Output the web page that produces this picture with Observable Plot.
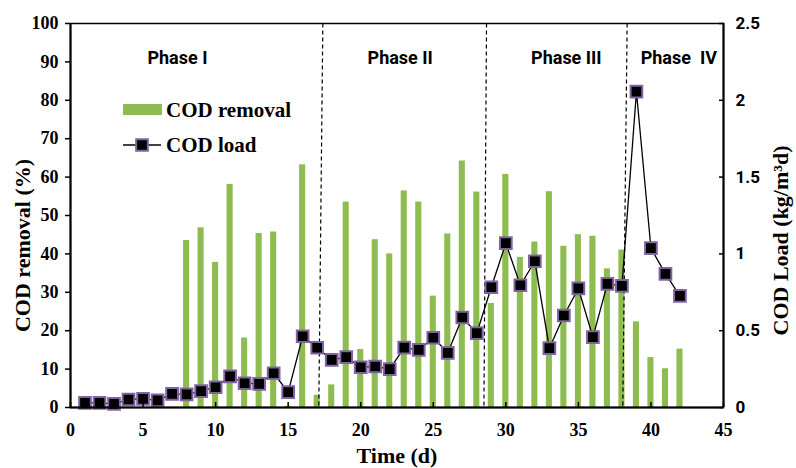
<!DOCTYPE html>
<html><head><meta charset="utf-8">
<script src="https://cdn.jsdelivr.net/npm/d3@7"></script>
<script src="https://cdn.jsdelivr.net/npm/@observablehq/plot@0.6"></script>
<style>body{margin:0;background:#fff} svg text{white-space:pre}</style>
</head><body><div id="chart"></div>
<script>
// ---- data ----
const removalDays = [8,9,10,11,12,13,14,15,16,17,18,19,20,21,22,23,24,25,26,27,28,29,30,31,32,33,34,35,36,37,38,39,40,41,42];
const removalValues = [43.5,46.8,37.8,58.1,18.1,45.3,45.7,0.3,63.2,3.2,5.9,53.5,15.1,43.7,40.0,56.4,53.5,29.0,45.2,64.2,56.1,27.1,60.7,39.1,43.1,56.2,42.0,45.0,44.6,36.1,41.0,22.3,13.0,10.1,15.2];
const loadDays = [1,2,3,4,5,6,7,8,9,10,11,12,13,14,15,16,17,18,19,20,21,22,23,24,25,26,27,28,29,30,31,32,33,34,35,36,37,38,39,40,41,42];
const loadValues = [0.03,0.03,0.024,0.052,0.056,0.046,0.089,0.085,0.106,0.132,0.202,0.158,0.154,0.223,0.10,0.464,0.389,0.31,0.328,0.262,0.267,0.25,0.39,0.375,0.454,0.356,0.586,0.484,0.783,1.07,0.796,0.952,0.386,0.599,0.775,0.458,0.805,0.792,2.056,1.037,0.87,0.727];
const xTicks = [0,5,10,15,20,25,30,35,40,45];
const leftTicks = [0,10,20,30,40,50,60,70,80,90,100];
const rightTicks = [0,0.5,1,1.5,2,2.5];
const phaseNames = ["Phase I","Phase II","Phase III","Phase  IV"];
const phaseLabelX = [7.37,22.72,34.17,41.92];
const phaseLabelY = [91,91,91,91];
const phaseLineTop = [17.39,28.67,38.36];
const phaseLineBottom = [17.11,28.49,38.06];
const legendNames = ["COD removal","COD load"];

// ---- build ----
const green = "#8EBC50";
const purple = "#8064A2";
const k = 40; // right axis (0–2.5) mapped onto left axis (0–100)
const halfBar = 0.21;
const bars = removalDays.map((d,i)=>({day:d, v:removalValues[i]}));
const load = loadDays.map((d,i)=>({day:d, v:loadValues[i]*k}));
const phases = phaseNames.map((n,i)=>({name:n, x:phaseLabelX[i], y:phaseLabelY[i]}));
const lines = phaseLineTop.map((t,i)=>({top:t, bottom:phaseLineBottom[i]}));
const serif = "'Liberation Serif','Times New Roman',serif";
const sans = "Roboto,'Open Sans',sans-serif";

const chart = Plot.plot({
  width: 796, height: 468,
  marginLeft: 70, marginRight: 73, marginTop: 23, marginBottom: 61,
  style: {fontFamily: serif, fontWeight: "bold", background: "#fff", overflow: "visible"},
  x: {domain: [0,45]},
  y: {domain: [0,100]},
  marks: [
    Plot.rect(bars, {x1: d=>d.day-halfBar, x2: d=>d.day+halfBar, y1: 0, y2: "v", fill: green}),
    Plot.link(lines, {x1: "top", y1: 100, x2: "bottom", y2: 0, stroke: "#000", strokeWidth: 1.2, strokeDasharray: "4,3"}),
    Plot.line(load, {x: "day", y: "v", stroke: "#000", strokeWidth: 1.3}),
    Plot.dot(load, {x: "day", y: "v", symbol: "square", r: 6.6, fill: "#000", stroke: purple, strokeWidth: 2}),
    Plot.frame({stroke: "#000", strokeWidth: 1.5}),
    Plot.ruleY([0], {stroke: "#000", strokeWidth: 2.2}),
    Plot.ruleX([0,45], {stroke: "#000", strokeWidth: 2}),
    Plot.axisX(xTicks, {anchor: "bottom", tickSize: -5, tickPadding: 21, strokeWidth: 1.5, fontSize: 18, fontFamily: serif, label: null}),
    Plot.axisY(leftTicks, {anchor: "left", tickSize: 5, tickPadding: 7, strokeWidth: 1.5, fontSize: 18, fontFamily: serif, label: null}),
    Plot.axisY(rightTicks.map(v=>v*k), {anchor: "right", tickFormat: d => d/k, tickSize: -5, tickPadding: 17, strokeWidth: 1.5, fontSize: 17, fontFamily: sans, textAnchor: "start", label: null}),
    Plot.text(phases, {x: "x", y: "y", text: "name", fontFamily: sans, fontWeight: "bold", fontSize: 18, fill: "#000"}),
    Plot.text(["COD removal (%)"], {frameAnchor: "left", textAnchor: "middle", dx: -48, dy: 30, rotate: -90, fontSize: 22, fontWeight: "bold", fontFamily: serif}),
    Plot.text(["COD Load (kg/m³d)"], {frameAnchor: "right", textAnchor: "middle", dx: 57, dy: 25, rotate: -90, fontSize: 22, fontWeight: "bold", fontFamily: serif}),
    Plot.text(["Time (d)"], {frameAnchor: "bottom", dy: 55, fontSize: 22, fontWeight: "bold", fontFamily: serif})
  ]
});
document.getElementById("chart").appendChild(chart);

// ---- legend (inside plot, upper left) ----
const svg = d3.select(chart);
const lg = svg.append("g").attr("text-anchor","start");
lg.append("rect").attr("x",123).attr("y",104).attr("width",39).attr("height",11).attr("fill",green);
lg.append("text").attr("x",166).attr("y",117).text(legendNames[0])
  .attr("font-family",serif).attr("font-weight","bold").attr("font-size",21).attr("fill","#000");
lg.append("line").attr("x1",123).attr("x2",161).attr("y1",145).attr("y2",145).attr("stroke","#000").attr("stroke-width",1.3);
lg.append("path").attr("d", d3.symbol(d3.symbolSquare, 6.6*6.6*Math.PI)()).attr("transform","translate(142,145)")
  .attr("fill","#000").attr("stroke",purple).attr("stroke-width",2);
lg.append("text").attr("x",166).attr("y",152).text(legendNames[1])
  .attr("font-family",serif).attr("font-weight","bold").attr("font-size",21).attr("fill","#000");
</script>
</body></html>
